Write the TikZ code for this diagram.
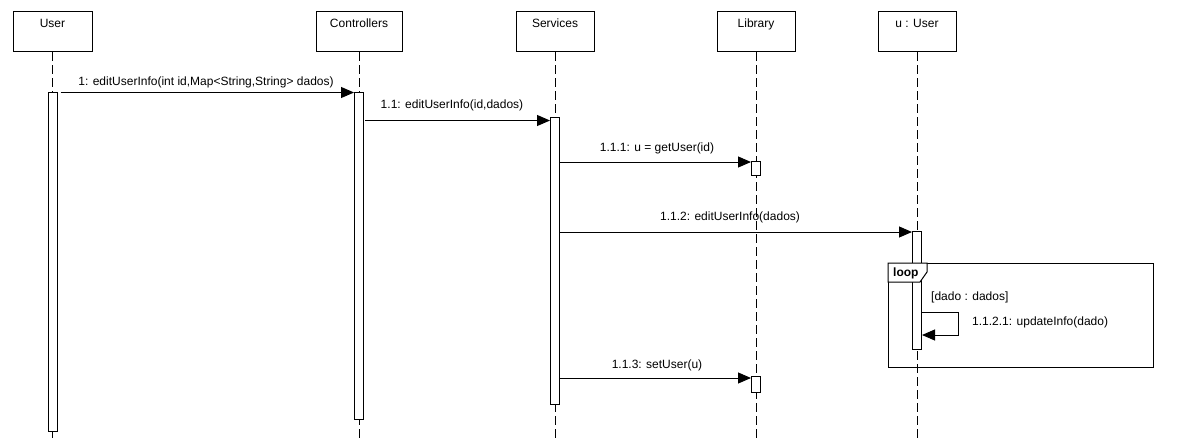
\documentclass[tikz,border=0pt]{standalone}
\usepackage{fontspec}
\setmainfont{Liberation Sans}
\usetikzlibrary{arrows.meta}
\begin{document}
\begin{tikzpicture}[x=1pt,y=-1pt,
  every node/.style={font=\fontsize{12}{14}\selectfont},
  head/.style={draw, line width=1pt, anchor=north, minimum height=40pt, inner ysep=0pt, text height=15pt, text depth=23pt},
  act/.style={draw, fill=white, line width=1pt, anchor=north, minimum width=9pt, inner sep=0pt},
  life/.style={line width=1pt, dash pattern=on 9pt off 4pt},
  msg/.style={line width=1pt, -{Triangle[length=13pt,width=11pt]}},
  lbl/.style={anchor=base, inner sep=0pt},
  lblw/.style={anchor=base west, inner sep=0pt}]
\useasboundingbox (0,0) rectangle (1188,440);
\fill[white] (0,0) rectangle (1188,440);
% heads
\node[head, minimum width=79pt] (hU) at (52.5,11) {User};
\node[head, minimum width=86pt] (hC) at (359,11) {Controllers};
\node[head, minimum width=78pt] (hS) at (555,11) {Services};
\node[head, minimum width=78pt] (hL) at (756,11) {Library};
\node[head, minimum width=78pt] (hV) at (917,11) {u : User};
% lifelines
\foreach \h in {hU,hC,hS,hL,hV}
  \draw[life] (\h.south) -- (\h.south |- 0,440);
% loop frame
\node[draw, line width=1pt, anchor=north west, minimum width=265pt, minimum height=104pt, inner sep=0pt] (frame) at (888,263) {};
% activations
\node[act, minimum height=339pt] (aU) at (hU.south |- 0,92) {};
\node[act, minimum height=327pt] (aC) at (hC.south |- 0,92) {};
\node[act, minimum height=287pt] (aS) at (hS.south |- 0,117) {};
\node[act, minimum height=14pt] (aL1) at (hL.south |- 0,161) {};
\node[act, minimum height=16pt] (aL2) at (hL.south |- 0,376) {};
\node[act, minimum height=118pt] (aV) at (hV.south |- 0,231) {};
% loop tab (drawn over the activation)
\filldraw[fill=white, line width=1pt] (frame.north west) -- ++(39,0) -- ++(0,9) -- ++(-7,10) -- (frame.north west |- 0,282) -- cycle;
\node[lblw, font=\bfseries\fontsize{12}{14}\selectfont] (lp) at (893,276) {loop};
% messages
\draw[msg, shorten <=3pt] (aU.east |- 0,92.5) -- (aC.west |- 0,92.5);
\draw[msg, shorten <=1pt] (aC.east |- 0,120.5) -- (aS.west |- 0,120.5);
\draw[msg] (aS.east |- 0,162) -- (aL1.west |- 0,162);
\draw[msg] (aS.east |- 0,232) -- (aV.west |- 0,232);
\draw[msg] (aS.east |- 0,378) -- (aL2.west |- 0,378);
\draw[msg] (aV.east |- 0,312) -- ++(36,0) -- ++(0,23) -- (aV.east |- 0,335);
% labels
\node[lbl] (m1) at (206,85) {1: editUserInfo(int id,Map<String,String> dados)};
\node[lbl] (m2) at (452,108) {1.1: editUserInfo(id,dados)};
\node[lbl] (m3) at (657,151) {1.1.1: u = getUser(id)};
\node[lbl] (m4) at (730,220) {1.1.2: editUserInfo(dados)};
\node[lbl] (m5) at (657,368) {1.1.3: setUser(u)};
\node[lblw] (g) at (931,300) {[dado : dados]};
\node[lblw] (m6) at (972,325) {1.1.2.1: updateInfo(dado)};
\end{tikzpicture}
\end{document}
